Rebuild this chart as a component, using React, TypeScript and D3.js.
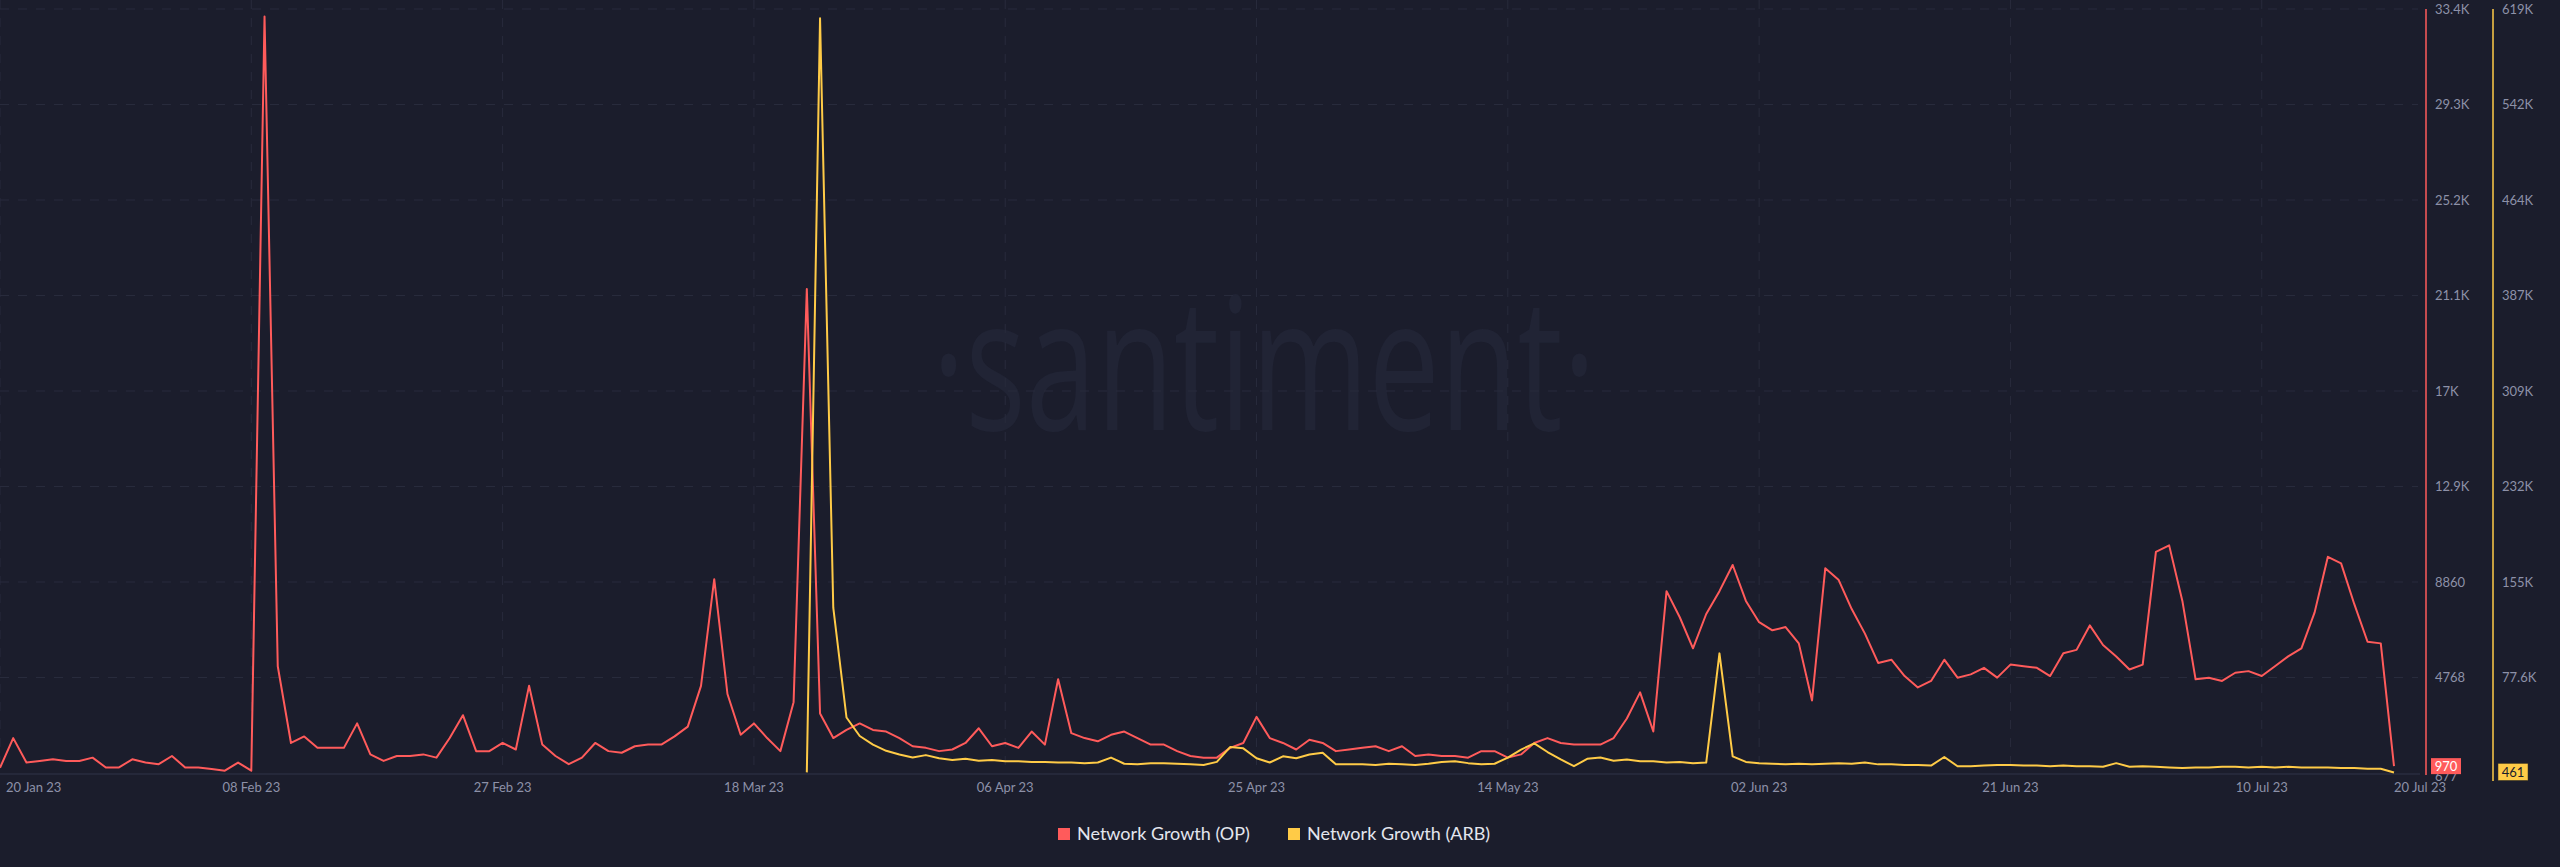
import React, { useMemo } from "react";
import { scaleLinear, scaleTime, line, timeDay, timeFormat } from "d3";

// daily series, 20 Jan 23 .. 20 Jul 23
const startDay = new Date(2023, 0, 20);
const endDay = new Date(2023, 6, 20);
const arbStartDay = new Date(2023, 2, 22);

const opValues = [
	900, 2170, 1124, 1194, 1264, 1194, 1194, 1334, 914, 914, 1264, 1124, 1054, 1404, 914, 914, 844, 774, 1124, 774,
	33090, 5251, 1963, 2243, 1753, 1753, 1753, 2802, 1473, 1194, 1404, 1404, 1473, 1334, 2173, 3152, 1613, 1613, 1963, 1683,
	4411, 1893, 1404, 1054, 1334, 1963, 1613, 1543, 1823, 1893, 1893, 2243, 2662, 4411, 8980, 4061, 2313, 2802, 2173, 1613,
	3712, 21410, 3222, 2173, 2523, 2802, 2523, 2453, 2173, 1823, 1753, 1613, 1683, 1963, 2592, 1823, 1963, 1753, 2453, 1893,
	4691, 2383, 2173, 2033, 2313, 2453, 2173, 1893, 1893, 1613, 1404, 1334, 1334, 1753, 1963, 3082, 2173, 1963, 1683, 2103,
	1963, 1613, 1683, 1753, 1823, 1613, 1823, 1404, 1473, 1404, 1404, 1334, 1613, 1613, 1334, 1473, 1963, 2173, 1963, 1893,
	1893, 1893, 2173, 3012, 4131, 2453, 8468, 7349, 6020, 7489, 8468, 9588, 8049, 7139, 6789, 6929, 6230, 3782, 9448, 8958,
	7699, 6649, 5391, 5531, 4831, 4341, 4621, 5531, 4761, 4901, 5181, 4761, 5321, 5251, 5181, 4831, 5811, 5951, 7000, 6160,
	5671, 5111, 5321, 10150, 10430, 8049, 4691, 4761, 4621, 4971, 5041, 4831, 5251, 5671, 6020, 7559, 9938, 9658, 7909, 6300,
	6230, 970,
];

const arbValues = [
	500, 612000, 134000, 45000, 30000, 23000, 18000, 15000, 12500, 14500, 12000, 10500, 11500, 10000, 10500, 9500, 9500, 9000, 9000,
	8500, 8500, 8000, 8500, 12500, 7500, 7000, 8000, 8000, 7500, 7000, 6500, 9000, 21000, 20000, 12000, 8500, 13500, 12000,
	15000, 16500, 7000, 7000, 7000, 6500, 7500, 7000, 6500, 7500, 9000, 9500, 8000, 7000, 7500, 12500, 19000, 24000, 17000,
	11000, 5500, 11500, 12500, 10000, 11000, 9500, 9500, 8500, 9000, 8000, 8500, 97000, 13500, 9000, 8000, 7500, 7000, 7500,
	7000, 7500, 8000, 7500, 8500, 7000, 7000, 6500, 6500, 6000, 13000, 5500, 5500, 6000, 6500, 6500, 6000, 6000, 5500, 6000,
	5500, 5500, 5000, 8000, 5000, 5500, 5000, 4500, 4000, 4500, 4500, 5000, 5000, 4500, 5000, 4500, 5000, 4500, 4500, 4500,
	4000, 4000, 3500, 3500, 461,
];

const opTickValues = [33412, 29320, 25228, 21136, 17044, 12952, 8860, 4768, 676];
const opTickLabels = ["33.4K", "29.3K", "25.2K", "21.1K", "17K", "12.9K", "8860", "4768", "677"];
const arbTickValues = [619500, 542062, 464625, 387187, 309750, 232312, 154875, 77437];
const arbTickLabels = ["619K", "542K", "464K", "387K", "309K", "232K", "155K", "77.6K"];
const dateTicks = [
	"2023-01-20", "2023-02-08", "2023-02-27", "2023-03-18", "2023-04-06",
	"2023-04-25", "2023-05-14", "2023-06-02", "2023-06-21", "2023-07-10", "2023-07-20",
];
const seriesNames = ["Network Growth (OP)", "Network Growth (ARB)"];
const lastLabels = ["970", "461"];

const W = 2560;
const H = 867;
const BG = "#1b1d2c";
const RED = "#ff5b5b";
const YEL = "#ffcb47";
const GRID = "#282b3c";
const TXT = "#8d91a8";
const FONT = "Lato, 'Open Sans', sans-serif";

const parseDay = (s: string) => {
	const [y, m, d] = s.split("-").map(Number);
	return new Date(y, m - 1, d);
};
const fmt = timeFormat("%d %b %y");

export default function App() {
	const days = useMemo(() => timeDay.range(startDay, timeDay.offset(endDay, 1)), []);
	const arbDays = useMemo(() => timeDay.range(arbStartDay, timeDay.offset(endDay, 1)), []);

	const plotTop = 9;
	const plotBottom = 773;
	const plotRight = 2394;

	const x = scaleTime().domain([startDay, endDay]).range([0, plotRight]);
	const yOp = scaleLinear().domain([676, 33412]).range([plotBottom, plotTop]);
	const yArb = scaleLinear().domain([0, 619500]).range([plotBottom, plotTop]);

	const opLine = line<number>()
		.x((_, i) => x(days[i]))
		.y((d) => yOp(d));
	const arbLine = line<number>()
		.x((_, i) => x(arbDays[i]))
		.y((d) => yArb(d));

	const redAxisX = 2426;
	const yelAxisX = 2493;

	return (
		<div style={{ position: "absolute", left: 0, top: 0 }}>
			<svg width={W} height={H} style={{ display: "block" }}>
				<rect width={W} height={H} fill={BG} />

				{/* watermark */}
				<text
					x={932}
					y={430}
					textLength={664}
					lengthAdjust="spacingAndGlyphs"
					fontFamily="'Open Sans', sans-serif"
					fontWeight={400}
					fontSize={185}
					fill="#212435">
					·santiment·
				</text>

				{/* grid */}
				{opTickValues.slice(0, -1).map((v, i) => (
					<line key={"h" + i} x1={0} x2={2418} y1={yOp(v)} y2={yOp(v)} stroke={GRID} strokeDasharray="9,9" />
				))}
				{dateTicks.slice(0, -1).map((s, i) => (
					<line key={"v" + i} x1={x(parseDay(s))} x2={x(parseDay(s))} y1={0} y2={plotBottom} stroke={GRID} strokeDasharray="9,9" />
				))}
				<line x1={0} x2={2420} y1={plotBottom + 1} y2={plotBottom + 1} stroke="#2a2d3f" strokeWidth={1.5} />

				{/* series */}
				<path d={opLine(opValues) || ""} fill="none" stroke={RED} strokeWidth={2} strokeLinejoin="round" />
				<path d={arbLine(arbValues) || ""} fill="none" stroke={YEL} strokeWidth={2} strokeLinejoin="round" />

				{/* x axis labels */}
				{dateTicks.map((s, i) => {
					const d = parseDay(s);
					const first = i === 0;
					const last = i === dateTicks.length - 1;
					return (
						<text
							key={"xl" + i}
							x={first ? 6 : x(d)}
							y={792}
							textAnchor={first || last ? "start" : "middle"}
							fontFamily={FONT}
							fontSize={13}
							fill={TXT}>
							{fmt(d)}
						</text>
					);
				})}

				{/* right axes */}
				<line x1={redAxisX} x2={redAxisX} y1={plotTop} y2={plotBottom + 2} stroke={RED} strokeWidth={1.5} />
				<line x1={yelAxisX} x2={yelAxisX} y1={plotTop} y2={plotBottom + 8} stroke={YEL} strokeWidth={1.5} />
				{opTickValues.map((v, i) => (
					<text key={"ot" + i} x={2435} y={yOp(v) + (i === opTickValues.length - 1 ? 3 : 0)} dy="0.35em" fontFamily={FONT} fontSize={13} fill={TXT}>
						{opTickLabels[i]}
					</text>
				))}
				{arbTickValues.map((v, i) => (
					<text key={"at" + i} x={2502} y={yArb(v)} dy="0.35em" fontFamily={FONT} fontSize={13} fill={TXT}>
						{arbTickLabels[i]}
					</text>
				))}

				{/* last value badges */}
				<g transform={`translate(2431, ${yOp(opValues[opValues.length - 1])})`}>
					<rect x={0} y={-8} width={30} height={16} fill={RED} />
					<text x={15} y={0} dy="0.35em" textAnchor="middle" fontFamily={FONT} fontSize={13} fill="#ffffff">
						{lastLabels[0]}
					</text>
				</g>
				<g transform={`translate(2498, ${yArb(arbValues[arbValues.length - 1]) - 1})`}>
					<rect x={0} y={-8} width={30} height={17} fill={YEL} stroke="#3a3320" strokeWidth={0.5} />
					<text x={15} y={0} dy="0.4em" textAnchor="middle" fontFamily={FONT} fontSize={13} fill="#1b1d2c">
						{lastLabels[1]}
					</text>
				</g>

				{/* legend */}
				{seriesNames.map((name, i) => {
					const lx = i === 0 ? 1058 : 1288;
					return (
						<g key={"lg" + i} transform={`translate(${lx}, 834)`}>
							<rect x={0} y={-6} width={12} height={12} fill={i === 0 ? RED : YEL} />
							<text x={19} y={0} dy="0.36em" fontFamily={FONT} fontSize={18} fill="#e4e6ee">
								{name}
							</text>
						</g>
					);
				})}
			</svg>
		</div>
	);
}
